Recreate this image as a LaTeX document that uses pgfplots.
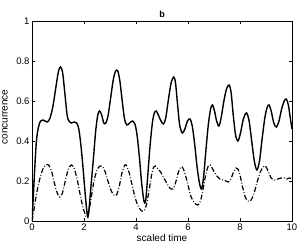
\documentclass[border=0pt]{standalone}
\usepackage{pgfplots}
\pgfplotsset{compat=1.18}
\usepackage{fontspec}
\setmainfont{Liberation Sans}
\begin{document}
\begin{tikzpicture}
\begin{axis}[
  name=ax,
  scale only axis,
  width=260pt, height=200pt,
  xmin=0, xmax=10, ymin=0, ymax=1,
  xtick={0,2,4,6,8,10},
  ytick={0,0.2,0.4,0.6,0.8,1},
  yticklabels={0,0.2,0.4,0.6,0.8,1},
  tick align=inside,
  tick pos=both,
  major tick length=3pt,
  axis line style={line width=0.5pt},
  tick style={line width=0.4pt, black},
  /pgf/number format/assume math mode=true,
  tick label style={font=\fontsize{9.5}{10}\selectfont},
  xticklabel style={yshift=1pt},
  yticklabel style={xshift=1pt},
  xlabel={scaled time},
  ylabel={concurrence},
  label style={font=\fontsize{10}{11}\selectfont},
  xlabel style={at={(axis description cs:0.5,-0.085)}, anchor=center},
  ylabel style={at={(axis description cs:-0.104,0.52)}, anchor=center},
  title={\textbf{b}},
  title style={font=\fontsize{9}{10}\selectfont, yshift=-6pt},
]
\addplot[black, line width=1.4pt, smooth, tension=0.5] coordinates {
(0,0) (0.05,0.12) (0.1,0.25) (0.17,0.40) (0.25,0.47) (0.33,0.50) (0.42,0.505) (0.5,0.50) (0.58,0.495) (0.68,0.51) (0.8,0.57) (0.92,0.67) (1.02,0.75) (1.10,0.77) (1.18,0.74) (1.27,0.63) (1.35,0.53) (1.42,0.50) (1.52,0.49) (1.62,0.495) (1.72,0.49) (1.80,0.46) (1.88,0.38) (1.96,0.27) (2.03,0.16) (2.10,0.06) (2.15,0.02) (2.20,0.07) (2.28,0.19) (2.36,0.31) (2.45,0.45) (2.53,0.53) (2.60,0.55) (2.68,0.53) (2.76,0.49) (2.84,0.49) (2.93,0.53) (3.03,0.62) (3.13,0.71) (3.22,0.75) (3.30,0.75) (3.38,0.70) (3.47,0.60) (3.56,0.51) (3.65,0.48) (3.75,0.49) (3.87,0.50) (3.97,0.48) (4.05,0.42) (4.13,0.32) (4.21,0.20) (4.28,0.12) (4.33,0.09) (4.38,0.11) (4.46,0.24) (4.55,0.39) (4.64,0.50) (4.72,0.545) (4.78,0.55) (4.86,0.53) (4.96,0.50) (5.06,0.485) (5.15,0.52) (5.25,0.61) (5.35,0.69) (5.45,0.72) (5.52,0.69) (5.60,0.58) (5.68,0.48) (5.78,0.44) (5.88,0.46) (5.98,0.50) (6.08,0.51) (6.17,0.47) (6.26,0.38) (6.35,0.27) (6.44,0.19) (6.52,0.16) (6.60,0.22) (6.68,0.34) (6.78,0.48) (6.87,0.56) (6.94,0.58) (7.02,0.55) (7.10,0.50) (7.19,0.475) (7.28,0.52) (7.38,0.60) (7.48,0.66) (7.58,0.68) (7.66,0.64) (7.74,0.53) (7.83,0.43) (7.92,0.40) (8.02,0.44) (8.13,0.51) (8.25,0.54) (8.35,0.50) (8.45,0.40) (8.55,0.30) (8.65,0.255) (8.75,0.30) (8.85,0.41) (8.96,0.52) (9.05,0.57) (9.12,0.58) (9.20,0.55) (9.30,0.49) (9.40,0.47) (9.50,0.50) (9.60,0.56) (9.70,0.60) (9.78,0.61) (9.86,0.58) (9.94,0.51) (10.0,0.46)
};
\addplot[black, line width=1.2pt, smooth, tension=0.5, dash pattern=on 5pt off 2pt on 0.8pt off 2pt] coordinates {
(0,0) (0.08,0.06) (0.18,0.14) (0.3,0.21) (0.42,0.26) (0.53,0.28) (0.64,0.28) (0.75,0.25) (0.86,0.19) (0.97,0.14) (1.07,0.12) (1.17,0.14) (1.28,0.20) (1.40,0.26) (1.52,0.28) (1.63,0.26) (1.75,0.20) (1.87,0.12) (1.98,0.06) (2.07,0.025) (2.12,0.02) (2.18,0.04) (2.28,0.12) (2.40,0.21) (2.52,0.26) (2.62,0.275) (2.69,0.275) (2.80,0.25) (2.92,0.20) (3.05,0.15) (3.15,0.13) (3.25,0.13) (3.35,0.17) (3.46,0.24) (3.55,0.275) (3.62,0.28) (3.72,0.25) (3.85,0.18) (3.98,0.11) (4.10,0.07) (4.22,0.05) (4.31,0.05) (4.40,0.08) (4.50,0.15) (4.60,0.23) (4.68,0.27) (4.75,0.275) (4.85,0.26) (4.95,0.245) (5.05,0.22) (5.18,0.19) (5.30,0.165) (5.42,0.16) (5.52,0.19) (5.62,0.24) (5.72,0.27) (5.78,0.27) (5.88,0.24) (6.00,0.18) (6.12,0.12) (6.25,0.09) (6.38,0.08) (6.48,0.10) (6.58,0.16) (6.68,0.23) (6.78,0.275) (6.85,0.28) (6.95,0.26) (7.08,0.23) (7.22,0.21) (7.35,0.205) (7.45,0.20) (7.55,0.195) (7.65,0.21) (7.75,0.245) (7.85,0.265) (7.92,0.26) (8.00,0.23) (8.10,0.17) (8.20,0.12) (8.30,0.10) (8.40,0.10) (8.52,0.13) (8.65,0.19) (8.78,0.245) (8.90,0.27) (8.98,0.275) (9.08,0.25) (9.20,0.215) (9.33,0.205) (9.45,0.21) (9.58,0.215) (9.70,0.215) (9.80,0.21) (9.90,0.215) (10,0.21)
};
\end{axis}
\pgfresetboundingbox
\path[use as bounding box] ([shift={(-32pt,-24pt)}]ax.south west) rectangle ([shift={(8pt,21pt)}]ax.north east);
\end{tikzpicture}
\end{document}
